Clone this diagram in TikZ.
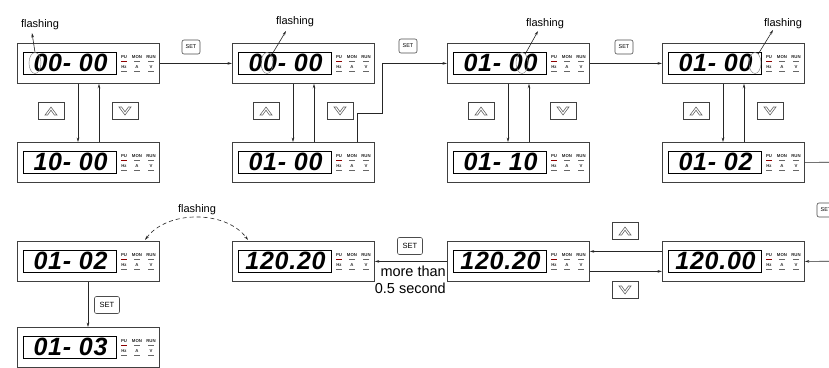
\documentclass[tikz,border=0pt]{standalone}
\usepackage{fontspec}
\setmainfont{Liberation Sans}
\newfontfamily\segfont[LetterSpace=3]{Liberation Sans Bold Italic}
\usetikzlibrary{calc,arrows.meta,shapes.geometric}
\tikzset{
 panel/.style={draw=black!75, line width=0.8pt, minimum width=142pt, minimum height=40pt, inner sep=0pt, anchor=north west},
 dispbox/.style={draw=black, line width=0.8pt, minimum width=93pt, minimum height=22pt, inner sep=0pt},
 digits/.style={font={\segfont\fontsize{25}{25}\selectfont}, inner sep=0pt},
 ind/.style={font={\bfseries\fontsize{4.3}{4.3}\selectfont}, inner sep=0pt, text=black!85},
 setbtn/.style={draw=black!70, rounded corners=2pt, minimum width=18pt, minimum height=14pt, inner sep=0pt, font={\fontsize{5.5}{5.5}\selectfont}, line width=0.6pt},
 bigset/.style={setbtn, minimum width=25pt, minimum height=17pt, font={\fontsize{7.5}{7.5}\selectfont}},
 arrbtn/.style={draw=black!75, minimum width=26pt, minimum height=17pt, inner sep=0pt, line width=0.7pt},
 chev/.style={draw=black!60, line width=0.6pt, line join=miter},
 conn/.style={draw=black!85, line width=0.6pt},
 arr/.style={conn, -{Stealth[length=4.5pt,width=2.6pt]}},
 flash/.style={font={\fontsize{11}{11}\selectfont}, inner sep=0pt},
 ring/.style={draw=black!45, line width=0.5pt, ellipse, minimum width=12pt, minimum height=21pt, inner sep=0pt},
 redbar/.style={line width=1.3pt, draw=red!55!black},
 graybar/.style={line width=1.3pt, draw=black!60},
}
\newcommand\mkpanel[4]{%
 \node[panel] (#1) at (#2,#3) {};
 \node[dispbox] (#1d) at ($(#1.north west)+(52.5,20)$) {};
 \node[digits] (#1t) at ($(#1d.center)+(1,0)$) {#4};
 \node[ind] (#1a) at ($(#1.north west)+(107,14)$) {PU};
 \node[ind] (#1b) at ($(#1.north west)+(120,14)$) {MON};
 \node[ind] (#1c) at ($(#1.north west)+(134,14)$) {RUN};
 \draw[redbar] ($(#1.north west)+(104,18.5)$) -- ++(6,0);
 \draw[graybar] ($(#1.north west)+(117,18.5)$) -- ++(6,0);
 \draw[graybar] ($(#1.north west)+(131,18.5)$) -- ++(6,0);
 \node[ind] (#1e) at ($(#1.north west)+(107,24)$) {Hz};
 \node[ind] (#1f) at ($(#1.north west)+(120,24)$) {A};
 \node[ind] (#1g) at ($(#1.north west)+(134,24)$) {V};
 \draw[graybar] ($(#1.north west)+(104,28.5)$) -- ++(6,0);
 \draw[graybar] ($(#1.north west)+(117,28.5)$) -- ++(6,0);
 \draw[graybar] ($(#1.north west)+(131,28.5)$) -- ++(6,0);
}
\newcommand\mkup[3]{%
 \node[arrbtn] (#1) at (#2,#3) {};
 \draw[chev] ($(#1.center)+(-6,4)$) -- ++(6,-8) -- ++(6,8) -- ++(-2.6,0) -- ++(-3.4,-4.8) -- ++(-3.4,4.8) -- cycle;
}
\newcommand\mkdown[3]{%
 \node[arrbtn] (#1) at (#2,#3) {};
 \draw[chev] ($(#1.center)+(-6,-4)$) -- ++(6,8) -- ++(6,-8) -- ++(-2.6,0) -- ++(-3.4,4.8) -- ++(-3.4,-4.8) -- cycle;
}
\begin{document}
\begin{tikzpicture}[x=1pt,y=-1pt]
\useasboundingbox (0,0) rectangle (829,367);
\clip (0,0) rectangle (829,367);
% panels
\mkpanel{p1}{17}{43}{00- 00}
\mkpanel{p2}{17}{142}{10- 00}
\mkpanel{p3}{232}{43}{00- 00}
\mkpanel{p4}{232}{142}{01- 00}
\mkpanel{p5}{447}{43}{01- 00}
\mkpanel{p6}{447}{142}{01- 10}
\mkpanel{p7}{662}{43}{01- 00}
\mkpanel{p8}{662}{142}{01- 02}
\mkpanel{q1}{17}{241}{01- 02}
\mkpanel{q2}{17}{327}{01- 03}
\mkpanel{q3}{232}{241}{120.20}
\mkpanel{q4}{447}{241}{120.20}
\mkpanel{q5}{662}{241}{120.00}
% up/down pairs in row 1
\foreach \a/\b in {p1/p2, p3/p4, p5/p6, p7/p8}{
 \draw[arr] ($(\a.south west)+(61,0)$) -- ($(\b.north west)+(61,0)$);
 \draw[arr] ($(\b.north west)+(82,0)$) -- ($(\a.south west)+(82,0)$);
}
\mkup{u1}{51}{111}\mkdown{d1}{125}{111}
\mkup{u2}{266}{111}\mkdown{d2}{340}{111}
\mkup{u3}{481}{111}\mkdown{d3}{563}{111}
\mkup{u4}{696}{111}\mkdown{d4}{770}{111}
% SET transitions row 1
\draw[arr] (p1.east) -- (p3.west);
\node[setbtn] (s1) at (191,47) {SET};
\draw[arr] ($(p4.north west)+(125,0)$) -- ++(0,-29) -- ++(25,0) |- (p5.west);
\node[setbtn] (s2) at (408,46) {SET};
\draw[arr] (p5.east) -- (p7.west);
\node[setbtn] (s3) at (624,47) {SET};
% right edge continuation
\coordinate (r1) at (860,162);
\coordinate (r2) at (860,261);
\draw[conn] (p8.east) -- (r1);
\node[setbtn] (s4) at (826,210) {SET};
\draw[arr] (r2) -- (q5.east);
% row 2
\draw[arr] ($(q5.west)+(0,-10)$) -- ($(q4.east)+(0,-10)$);
\draw[arr] ($(q4.east)+(0,10)$) -- ($(q5.west)+(0,10)$);
\mkup{u5}{625}{231}\mkdown{d5}{625}{290}
\draw[arr] (q4.west) -- (q3.east);
\node[bigset] (s5) at (410,246) {SET};
\node[anchor=north east, align=right, inner sep=0pt, font={\fontsize{14.5}{17}\selectfont}] (mt) at (446,266) {more than\\0.5 second};
\draw[arr] ($(q1.south west)+(71,0)$) -- ($(q2.north west)+(71,0)$);
\node[bigset] (s6) at (107,305) {SET};
% flashing dashed arc
\draw[conn, dash pattern=on 4pt off 3pt, {Stealth[length=4.5pt,width=2.6pt]}-{Stealth[length=4.5pt,width=2.6pt]}] ($(q1.north west)+(128,-1)$) .. controls +(22,-30) and +(-22,-30) .. ($(q3.north west)+(16,-1)$);
\node[flash] (f5) at (197,210) {flashing};
% flashing marks row 1
\node[ring] (e1) at (35,63) {};
\node[ring] (e2) at (267,63) {};
\node[ring] (e3) at (522,63) {};
\node[ring] (e4) at (755,63) {};
\node[flash] (f1) at (40,25) {flashing};
\node[flash] (f2) at (295,22) {flashing};
\node[flash] (f3) at (545,24) {flashing};
\node[flash] (f4) at (783,24) {flashing};
\coordinate (t1) at (32,33);
\coordinate (t2) at (286,31);
\coordinate (t3) at (538,31);
\coordinate (t4) at (773,30);
\draw[arr] (e1.north) -- (t1);
\draw[arr] (e2.60) -- (t2);
\draw[arr] (e3.70) -- (t3);
\draw[arr] (e4.70) -- (t4);
\end{tikzpicture}
\end{document}
